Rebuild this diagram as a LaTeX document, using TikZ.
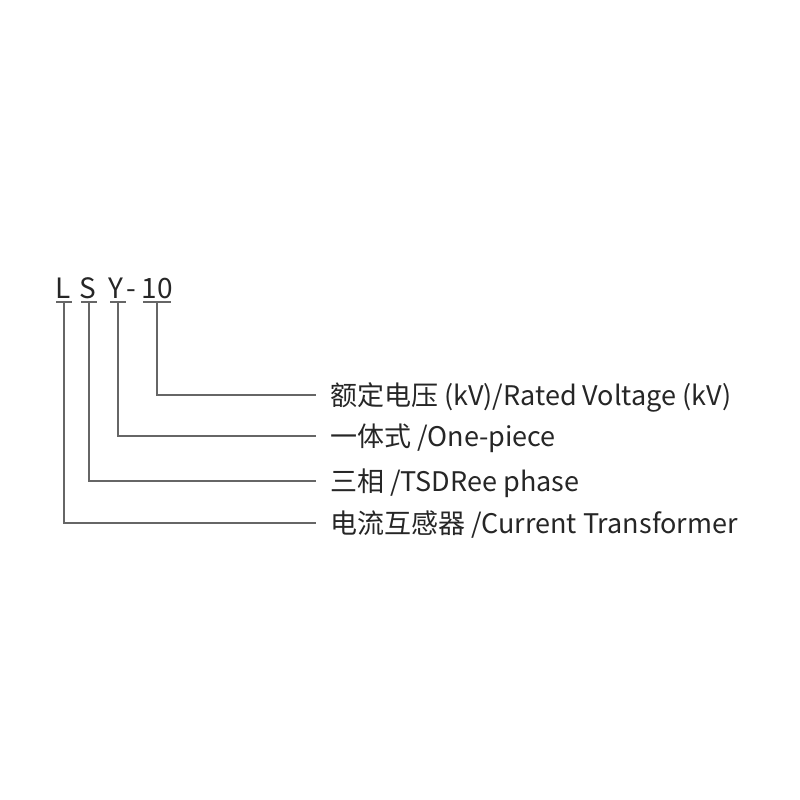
\documentclass[tikz,border=0pt]{standalone}
\usepackage{fontspec}
\setmainfont{Noto Sans CJK SC}
\usetikzlibrary{positioning}
\begin{document}
\begin{tikzpicture}[x=1pt,y=-1pt]
      \tikzstyle{letter}=[inner sep=0pt, anchor=base, text=black!85, font=\fontsize{28}{28}\selectfont]
      \tikzstyle{desc}=[inner sep=0pt, anchor=base west, text=black!85, font=\fontsize{27}{27}\selectfont]
      \tikzstyle{bar}=[draw=black!60, line width=1.3pt]
      \tikzstyle{connect}=[draw=black!60, line width=1.3pt]
      \useasboundingbox (0,0) rectangle (800,800);

      % model code
      \node[letter] (cL) at (63,298) {L};
      \node[letter] (cS) at (88,298) {S};
      \node[letter] (cY) at (116,298) {Y};
      \node[letter] (cdash) at (131,298) {-};
      \node[letter] (c10) at (157,298) {10};

      % underline marks
      \coordinate (uL) at (64,302);
      \coordinate (uS) at (89,302);
      \coordinate (uY) at (118,302);
      \coordinate (u10) at (157,302);
      \draw[bar] ([xshift=-8pt]uL) -- ([xshift=8pt]uL);
      \draw[bar] ([xshift=-8pt]uS) -- ([xshift=8pt]uS);
      \draw[bar] ([xshift=-8pt]uY) -- ([xshift=8pt]uY);
      \draw[bar] ([xshift=-14pt]u10) -- ([xshift=14pt]u10);

      % descriptions
      \node[desc] (d10) at (330,405) {额定电压 (kV)/Rated Voltage (kV)};
      \node[desc] (dY) at (330,446) {一体式 /One-piece};
      \node[desc] (dS) at (330,491) {三相 /TSDRee phase};
      \node[desc] (dL) at (330,533) {电流互感器 /Current Transformer};

      % line ends
      \coordinate (e10) at (316,395);
      \coordinate (eY) at (316,436);
      \coordinate (eS) at (316,481);
      \coordinate (eL) at (316,523);

      \draw[connect] (u10) |- (e10);
      \draw[connect] (uY) |- (eY);
      \draw[connect] (uS) |- (eS);
      \draw[connect] (uL) |- (eL);

\end{tikzpicture}
\end{document}
